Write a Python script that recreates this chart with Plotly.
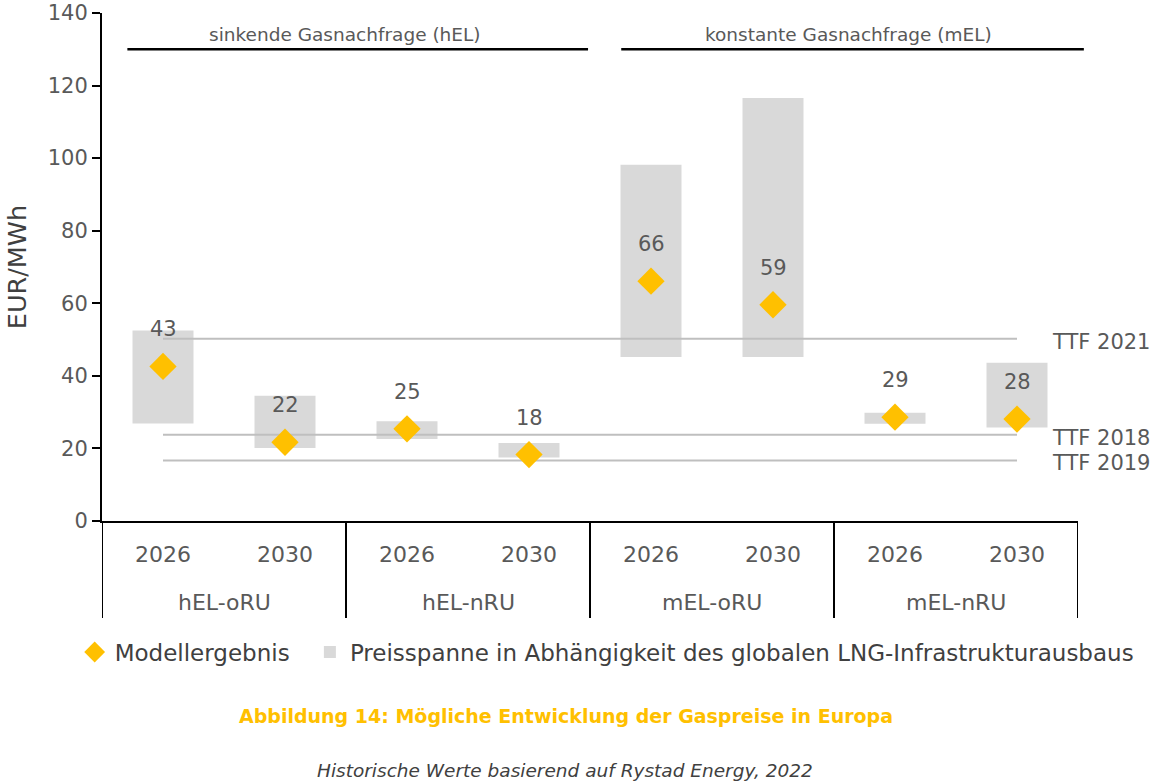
import plotly.graph_objects as go

# scenario groups and years
groups = ["hEL-oRU", "hEL-oRU", "hEL-nRU", "hEL-nRU",
          "mEL-oRU", "mEL-oRU", "mEL-nRU", "mEL-nRU"]
years = ["2026", "2030", "2026", "2030", "2026", "2030", "2026", "2030"]
group_names = ["hEL-oRU", "hEL-nRU", "mEL-oRU", "mEL-nRU"]

# model result (diamond) and price range (bar low/high), EUR/MWh
model_result = [42.6, 21.7, 25.4, 18.3, 66.1, 59.6, 28.6, 28.1]
model_labels = ["43", "22", "25", "18", "66", "59", "29", "28"]
range_low = [26.9, 20.1, 22.6, 17.5, 45.2, 45.2, 26.8, 25.8]
range_high = [52.5, 34.5, 27.5, 21.5, 98.2, 116.6, 29.8, 43.6]

# historic TTF reference levels
ttf_names = ["TTF 2021", "TTF 2018", "TTF 2019"]
ttf_values = [50.2, 23.8, 16.7]

y_ticks = [0, 20, 40, 60, 80, 100, 120, 140]

GREY_TXT = "#595959"
DARK_TXT = "#404040"
FONT = "DejaVu Sans"

# one category per scenario/year combination
cats = [g + " " + y for g, y in zip(groups, years)]

fig = go.Figure()

# price range bars (floating)
fig.add_trace(go.Bar(
    x=cats,
    y=[h - l for h, l in zip(range_high, range_low)],
    base=range_low,
    width=0.5,
    marker=dict(color="#D9D9D9", line=dict(width=0)),
    name="Preisspanne in Abhängigkeit des globalen LNG-Infrastrukturausbaus",
    legend="legend2",
))

# TTF horizontal reference lines, first to last category
for name, val in zip(ttf_names, ttf_values):
    fig.add_trace(go.Scatter(
        x=[cats[0], cats[-1]],
        y=[val, val],
        mode="lines",
        line=dict(color="#BFBFBF", width=2),
        showlegend=False,
        hoverinfo="skip",
    ))
    fig.add_annotation(
        x=0.971, xref="paper", y=val, yref="y",
        text=name, showarrow=False, xanchor="left", yshift=-3,
        font=dict(size=21, color=GREY_TXT, family=FONT),
    )

# model results
fig.add_trace(go.Scatter(
    x=cats,
    y=model_result,
    mode="markers",
    marker=dict(symbol="diamond", size=21, color="#FFC000"),
    name="Modellergebnis",
    legend="legend",
))

# value labels above the diamonds
for c, v, lab in zip(cats, model_result, model_labels):
    fig.add_annotation(
        x=c, y=v, text=lab, showarrow=False, yshift=37,
        font=dict(size=21, color=GREY_TXT, family=FONT),
    )

# group labels and dividers below the axis
for i, g in enumerate(group_names):
    fig.add_annotation(
        x=2 * i + 0.5, xref="x", y=-0.161, yref="paper",
        text=g, showarrow=False, xanchor="center", yanchor="middle",
        font=dict(size=22, color=GREY_TXT, family=FONT),
    )
for i in range(len(group_names) + 1):
    fig.add_shape(type="line", xref="x", yref="paper",
                  x0=2 * i - 0.5, x1=2 * i - 0.5, y0=0, y1=-0.191,
                  line=dict(color="black", width=2))

# scenario headers at the top
headers = [("sinkende Gasnachfrage (hEL)", 0.026, 0.498, 0.249),
           ("konstante Gasnachfrage (mEL)", 0.532, 1.006, 0.765)]
for text, x0, x1, xc in headers:
    fig.add_shape(type="line", xref="paper", yref="y",
                  x0=x0, x1=x1, y0=130, y1=130,
                  line=dict(color="black", width=2.5))
    fig.add_annotation(x=xc, xref="paper", y=130, yref="y", yshift=15,
                       text=text, showarrow=False, xanchor="center",
                       font=dict(size=18.5, color=GREY_TXT, family=FONT))

# caption and source
fig.add_annotation(x=0.475, xref="paper", y=-0.384, yref="paper",
                   text="<b>Abbildung 14: Mögliche Entwicklung der Gaspreise in Europa</b>",
                   showarrow=False, xanchor="center", yanchor="middle",
                   font=dict(size=19, color="#FFC000", family=FONT))
fig.add_annotation(x=0.474, xref="paper", y=-0.492, yref="paper",
                   text="<i>Historische Werte basierend auf Rystad Energy, 2022</i>",
                   showarrow=False, xanchor="center", yanchor="middle",
                   font=dict(size=18.5, color=DARK_TXT, family=FONT))

legend_style = dict(orientation="h", xanchor="left", y=-0.258,
                    yanchor="middle", font=dict(size=23, color=DARK_TXT))

fig.update_layout(
    width=1158, height=783,
    margin=dict(l=102, r=80, t=13, b=262, autoexpand=False),
    plot_bgcolor="white", paper_bgcolor="white",
    font=dict(family=FONT, color=GREY_TXT, size=21),
    showlegend=True,
    legend=dict(x=-0.028, **legend_style),
    legend2=dict(x=0.213, **legend_style),
    xaxis=dict(type="category", range=[-0.5, 7.5],
               tickvals=cats, ticktext=years,
               showline=True, linecolor="black", linewidth=2,
               ticks="outside", ticklen=13, tickcolor="rgba(0,0,0,0)",
               showgrid=False, tickfont=dict(size=22, color=GREY_TXT)),
    yaxis=dict(range=[0, 140], tickvals=y_ticks, showline=True,
               linecolor="black", linewidth=2, ticks="outside", ticklen=8,
               tickcolor="black", tickwidth=2, showgrid=False,
               zeroline=False, ticklabeloverflow="allow",
               tickfont=dict(size=21, color=GREY_TXT),
               title=dict(text="EUR/MWh", standoff=14,
                          font=dict(size=25.5, color=DARK_TXT))),
)

fig.write_html("out.html", config={"displayModeBar": False},
               post_script="document.body.style.margin = '0';")
